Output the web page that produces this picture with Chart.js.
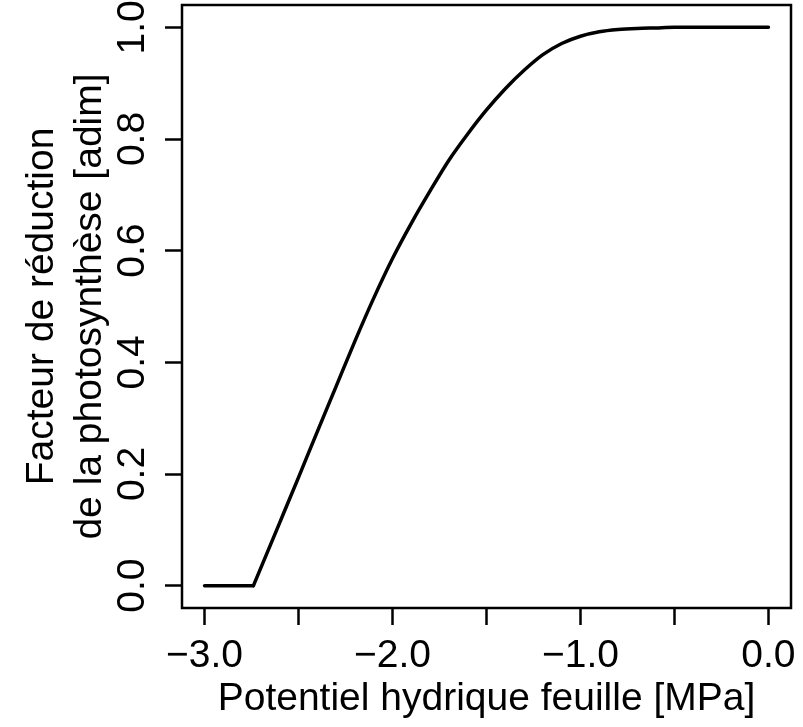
<!DOCTYPE html>
<html>
<head>
<meta charset="utf-8">
<script src="https://cdn.jsdelivr.net/npm/chart.js@4/dist/chart.umd.min.js"></script>
<style>
    html, body { margin: 0; padding: 0; background: #ffffff; }
    #wrap { width: 803px; height: 727px; }
</style>
</head>
<body>
<div id="wrap"><canvas id="chart" width="803" height="727"></canvas></div>
<script>
// Potentiel hydrique feuille (MPa) et facteur de réduction
const psiValues = [-3.0, -2.9, -2.8, -2.74, -2.6, -2.5, -2.4, -2.3, -2.2, -2.1,
    -2.0, -1.9, -1.8, -1.7, -1.6, -1.5, -1.4, -1.3, -1.2, -1.1,
    -1.0, -0.9, -0.8, -0.7, -0.6, -0.5, -0.4, -0.3, -0.2, -0.1, 0.0];
const factorValues = [0, 0, 0, 0, 0.113, 0.194, 0.276, 0.357, 0.438, 0.515,
    0.586, 0.649, 0.707, 0.762, 0.809, 0.852, 0.890, 0.923, 0.951, 0.971,
    0.984, 0.992, 0.996, 0.998, 0.999, 1, 1, 1, 1, 1, 1];
// index du point où la courbe quitte zéro
const kinkIndex = 3;

const xTicks = [-3.0, -2.5, -2.0, -1.5, -1.0, -0.5, 0.0];
const xLabelled = [-3.0, -2.0, -1.0, 0.0];
const yTicks = [0, 0.2, 0.4, 0.6, 0.8, 1.0];

const xTitle = 'Potentiel hydrique feuille [MPa]';
const yTitle = ['Facteur de réduction', 'de la photosynthèse [adim]'];

const FONT = '"Liberation Sans", Arial, Helvetica, sans-serif';
const FONT_SIZE = 39;

function fmt(v) {
    const s = Math.abs(v) < 1e-9 ? '0.0' : v.toFixed(1);
    return s.replace('-', '\u2212');
}

function toPoints(from, to) {
    return psiValues.slice(from, to).map((x, i) => ({ x: x, y: factorValues[from + i] }));
}

// cadre autour de la zone de tracé (box() en R)
const boxPlugin = {
    id: 'box',
    afterDraw(chart) {
        const { ctx, chartArea: a } = chart;
        ctx.save();
        ctx.strokeStyle = '#000';
        ctx.lineWidth = 2.5;
        ctx.strokeRect(a.left, a.top, a.right - a.left, a.bottom - a.top);
        ctx.restore();
    }
};

const lineStyle = {
    borderColor: '#000',
    borderWidth: 3.5,
    pointRadius: 0,
    fill: false,
    borderCapStyle: 'round',
    borderJoinStyle: 'round'
};

new Chart(document.getElementById('chart'), {
    type: 'line',
    data: {
        datasets: [
            Object.assign({ data: toPoints(0, kinkIndex + 1), tension: 0 }, lineStyle),
            Object.assign({ data: toPoints(kinkIndex, psiValues.length), cubicInterpolationMode: 'monotone' }, lineStyle)
        ]
    },
    options: {
        responsive: false,
        animation: false,
        layout: { padding: { left: 0, right: 12, top: 5, bottom: 0 } },
        plugins: { legend: { display: false }, tooltip: { enabled: false } },
        scales: {
            x: {
                type: 'linear',
                min: -3.12,
                max: 0.12,
                afterBuildTicks: scale => { scale.ticks = xTicks.map(v => ({ value: v })); },
                afterFit: scale => {
                    scale.height = 119;
                    scale.paddingLeft = 0;
                    scale.paddingRight = 0;
                },
                border: { display: false },
                grid: {
                    drawOnChartArea: false,
                    drawTicks: true,
                    tickLength: 17,
                    tickWidth: 2.5,
                    tickColor: '#000'
                },
                ticks: {
                    color: '#000',
                    padding: 8,
                    maxRotation: 0,
                    autoSkip: false,
                    font: { family: FONT, size: FONT_SIZE },
                    callback: v => xLabelled.some(l => Math.abs(l - v) < 1e-9) ? fmt(v) : ''
                },
                title: {
                    display: true,
                    text: xTitle,
                    color: '#000',
                    font: { family: FONT, size: FONT_SIZE },
                    padding: { top: 0, bottom: 4 }
                }
            },
            y: {
                type: 'linear',
                min: -0.04,
                max: 1.04,
                afterBuildTicks: scale => { scale.ticks = yTicks.map(v => ({ value: v })); },
                afterFit: scale => {
                    scale.width = 182;
                    scale.paddingTop = 0;
                    scale.paddingBottom = 0;
                },
                border: { display: false },
                grid: {
                    drawOnChartArea: false,
                    drawTicks: true,
                    tickLength: 17,
                    tickWidth: 2.5,
                    tickColor: '#000'
                },
                ticks: {
                    color: '#000',
                    padding: 5,
                    minRotation: 90,
                    maxRotation: 90,
                    crossAlign: 'center',
                    autoSkip: false,
                    font: { family: FONT, size: FONT_SIZE },
                    callback: v => fmt(v)
                },
                title: {
                    display: true,
                    text: yTitle,
                    color: '#000',
                    font: { family: FONT, size: FONT_SIZE, lineHeight: 1.23 },
                    padding: { top: 18, bottom: 0 }
                }
            }
        }
    },
    plugins: [boxPlugin]
});
</script>
</body>
</html>
